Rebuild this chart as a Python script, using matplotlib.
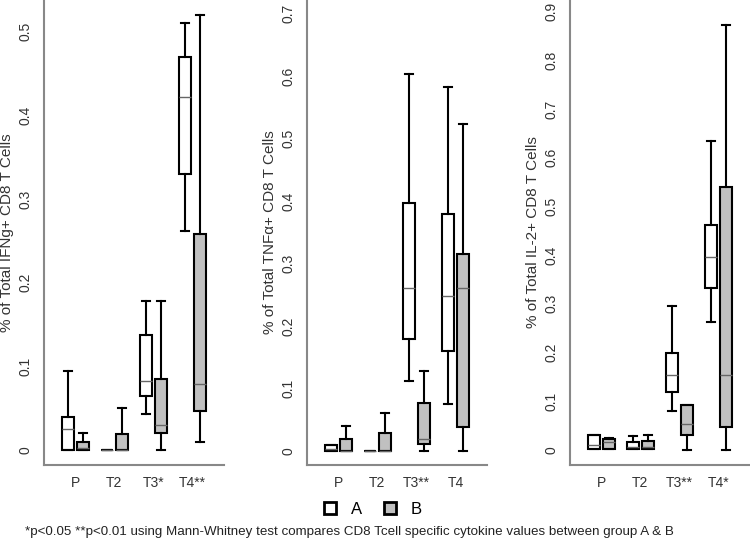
import matplotlib
matplotlib.use("Agg")
import matplotlib.pyplot as plt
from matplotlib.patches import Patch

plt.rcParams["font.family"] = ["Liberation Sans", "DejaVu Sans"]

# timepoints and their significance-tagged labels per panel
groups = ["P", "T2", "T3", "T4"]
labels_ifng = ["P", "T2", "T3*", "T4**"]
labels_tnfa = ["P", "T2", "T3**", "T4"]
labels_il2 = ["P", "T2", "T3**", "T4*"]

# box statistics: whisker low, Q1, median, Q3, whisker high
ifng_a_lo = [0.0, 0.0, 0.043, 0.262]
ifng_a_q1 = [0.0, 0.0, 0.064, 0.330]
ifng_a_med = [0.025, 0.0, 0.083, 0.422]
ifng_a_q3 = [0.039, 0.0, 0.137, 0.470]
ifng_a_hi = [0.094, 0.0, 0.178, 0.510]
ifng_b_lo = [0.0, 0.0, 0.0, 0.010]
ifng_b_q1 = [0.0, 0.0, 0.020, 0.046]
ifng_b_med = [0.002, 0.0, 0.030, 0.079]
ifng_b_q3 = [0.009, 0.019, 0.085, 0.258]
ifng_b_hi = [0.020, 0.050, 0.178, 0.520]

tnfa_a_lo = [0.0, 0.0, 0.112, 0.075]
tnfa_a_q1 = [0.0, 0.0, 0.180, 0.160]
tnfa_a_med = [0.003, 0.0, 0.261, 0.248]
tnfa_a_q3 = [0.0096, 0.0, 0.398, 0.380]
tnfa_a_hi = [0.0096, 0.0, 0.604, 0.583]
tnfa_b_lo = [0.0, 0.0, 0.0, 0.0]
tnfa_b_q1 = [0.0, 0.0, 0.011, 0.039]
tnfa_b_med = [0.0, 0.0, 0.020, 0.262]
tnfa_b_q3 = [0.019, 0.030, 0.078, 0.316]
tnfa_b_hi = [0.040, 0.061, 0.129, 0.523]

il2_a_lo = [0.002, 0.002, 0.079, 0.262]
il2_a_q1 = [0.002, 0.002, 0.118, 0.332]
il2_a_med = [0.010, 0.006, 0.153, 0.397]
il2_a_q3 = [0.031, 0.017, 0.200, 0.461]
il2_a_hi = [0.031, 0.029, 0.296, 0.634]
il2_b_lo = [0.002, 0.002, 0.0, 0.0]
il2_b_q1 = [0.002, 0.002, 0.031, 0.048]
il2_b_med = [0.016, 0.006, 0.053, 0.153]
il2_b_q3 = [0.022, 0.019, 0.092, 0.539]
il2_b_hi = [0.024, 0.031, 0.092, 0.873]

panels = [
    {"ylabel": "% of Total IFNg+ CD8 T Cells", "xt": labels_ifng,
     "a": (ifng_a_lo, ifng_a_q1, ifng_a_med, ifng_a_q3, ifng_a_hi),
     "b": (ifng_b_lo, ifng_b_q1, ifng_b_med, ifng_b_q3, ifng_b_hi),
     "ylim": (-0.018, 0.538), "yticks": [0, 0.1, 0.2, 0.3, 0.4, 0.5],
     "left": 44},
    {"ylabel": "% of Total TNF\u03b1+ CD8 T Cells", "xt": labels_tnfa,
     "a": (tnfa_a_lo, tnfa_a_q1, tnfa_a_med, tnfa_a_q3, tnfa_a_hi),
     "b": (tnfa_b_lo, tnfa_b_q1, tnfa_b_med, tnfa_b_q3, tnfa_b_hi),
     "ylim": (-0.022, 0.722), "yticks": [0, 0.1, 0.2, 0.3, 0.4, 0.5, 0.6, 0.7],
     "left": 307},
    {"ylabel": "% of Total IL-2+ CD8 T Cells", "xt": labels_il2,
     "a": (il2_a_lo, il2_a_q1, il2_a_med, il2_a_q3, il2_a_hi),
     "b": (il2_b_lo, il2_b_q1, il2_b_med, il2_b_q3, il2_b_hi),
     "ylim": (-0.031, 0.924), "yticks": [0, 0.1, 0.2, 0.3, 0.4, 0.5, 0.6, 0.7, 0.8, 0.9],
     "left": 570},
]

W, H = 750, 540
fill_a = "white"
fill_b = "#c0c0c0"


def make_stats(arrs):
    lo, q1, med, q3, hi = arrs
    return [{"whislo": lo[i], "q1": q1[i], "med": med[i], "q3": q3[i],
             "whishi": hi[i], "fliers": []} for i in range(len(lo))]


def draw_group(ax, arrs, positions, fill):
    ax.bxp(make_stats(arrs), positions=positions, widths=0.3,
           showfliers=False, patch_artist=True, capwidths=0.2,
           boxprops=dict(facecolor=fill, edgecolor="black", linewidth=1.5),
           whiskerprops=dict(color="black", linewidth=1.5),
           capprops=dict(color="black", linewidth=1.5),
           medianprops=dict(color="#666666", linewidth=1.0, zorder=5))


fig = plt.figure(figsize=(7.5, 5.4), dpi=100)
xpos = list(range(1, len(groups) + 1))

for p in panels:
    ax = fig.add_axes([p["left"] / W, 75 / H, 180 / W, 465 / H])
    draw_group(ax, p["a"], [x - 0.19 for x in xpos], fill_a)
    draw_group(ax, p["b"], [x + 0.19 for x in xpos], fill_b)
    ax.set_xlim(0.2, 4.8)
    ax.set_ylim(*p["ylim"])
    ax.set_xticks(xpos)
    ax.set_xticklabels(p["xt"])
    ax.set_yticks(p["yticks"])
    ax.set_yticklabels(["0" if t == 0 else f"{t:g}" for t in p["yticks"]],
                       rotation=90, va="center")
    ax.tick_params(length=0, labelsize=10, colors="#333333")
    ax.tick_params(axis="x", pad=8)
    ax.tick_params(axis="y", pad=8)
    ax.spines["top"].set_visible(False)
    ax.spines["right"].set_visible(False)
    for s in ("left", "bottom"):
        ax.spines[s].set_color("#888888")
        ax.spines[s].set_linewidth(1.5)
    ax.set_ylabel(p["ylabel"], fontsize=11, color="#333333")
    ax.yaxis.set_label_coords(-30 / 180, 0.5)

handles = [Patch(facecolor=fill_a, edgecolor="black", linewidth=2, label="A"),
           Patch(facecolor=fill_b, edgecolor="black", linewidth=2, label="B")]
fig.legend(handles=handles, loc="center", bbox_to_anchor=(373 / W, 1 - 509 / H),
           ncol=2, frameon=False, fontsize=12, handlelength=0.7, handleheight=0.7,
           handletextpad=0.9, columnspacing=1.3)

fig.text(25 / W, 1 - 532 / H,
         "*p<0.05 **p<0.01 using Mann-Whitney test compares CD8 Tcell specific "
         "cytokine values between group A & B",
         fontsize=9.6, color="#222222", va="center", ha="left")

fig.savefig("out.png", dpi=100)
